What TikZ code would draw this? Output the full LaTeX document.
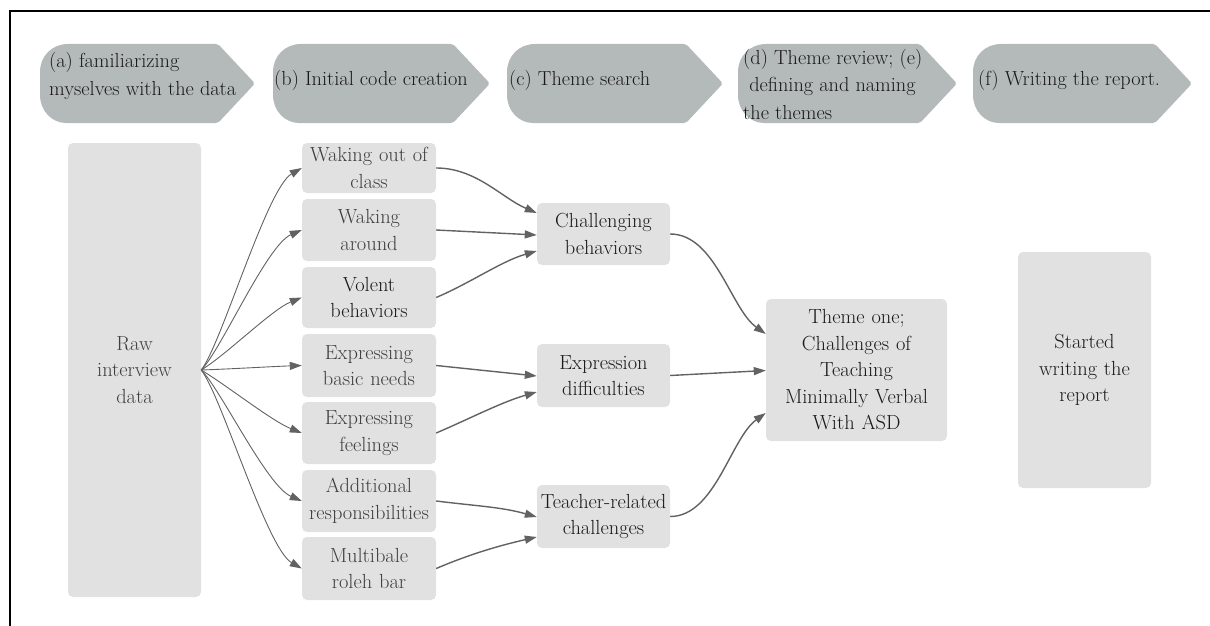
\documentclass[tikz,border=0pt]{standalone}
\usepackage{fontspec}
\usetikzlibrary{arrows.meta}
\definecolor{hdrfill}{RGB}{180,185,186}
\definecolor{boxfill}{RGB}{225,225,225}
\definecolor{edgecol}{RGB}{98,98,98}
\definecolor{txtdark}{RGB}{25,25,25}
\definecolor{txtgrey}{RGB}{62,62,62}
\newcommand\hdrshape[2]{%
  \fill[hdrfill,rounded corners=2pt] ({#1+28},44) -- ({#2-37},44) -- (#2,83.5) -- ({#2-37},123) -- ({#1+28},123)
    [sharp corners] .. controls ({#1+12},123) and (#1,111) .. (#1,95) -- (#1,72)
    .. controls (#1,56) and ({#1+12},44) .. ({#1+28},44) -- cycle;}
\begin{document}
\begin{tikzpicture}[x=1pt,y=-1pt,
  box/.style={fill=boxfill, rounded corners=5pt, inner sep=0pt, align=center,
    font=\fontsize{20.4}{26.5}\selectfont, text=txtgrey},
  hdrtext/.style={anchor=west, align=left, inner sep=0pt,
    font=\fontsize{20.3}{27.5}\selectfont, text=txtdark},
  link/.style={draw=edgecol, line width=1.4pt, -{Triangle[length=12pt,width=8pt]}},
  fan/.style={draw=edgecol, line width=0.9pt, -{Triangle[length=12pt,width=8pt]}},
]
\useasboundingbox (0,0) rectangle (1210,626);
% frame
\draw[line width=2pt] (9.5,626) -- (9.5,11) -- (1210,11);
% header chevrons
\hdrshape{40}{255}
\hdrshape{273}{490}
\hdrshape{507}{723}
\hdrshape{738}{957}
\hdrshape{973}{1192}
\node[hdrtext] (h1) at (49,76) {(a) familiarizing\\myselves with the data};
\node[hdrtext] (h2) at (274,80) {(b) Initial code creation};
\node[hdrtext] (h3) at (509,80) {(c) Theme search};
\node[hdrtext] (h4) at (743,84) {(d) Theme review; (e)\\\ defining and naming\\the themes};
\node[hdrtext] (h5) at (978,80) {(f) Writing the report.};
% boxes
\node[box, minimum width=133pt, minimum height=454pt, text width=129pt] (raw) at (134.5,370) {Raw\\interview\\data};
\node[box, minimum width=134pt, minimum height=50pt, text width=132pt] (c1) at (369,168) {Waking out of\\class};
\node[box, minimum width=134pt, minimum height=62pt, text width=132pt] (c2) at (369,230) {Waking\\around};
\node[box, minimum width=134pt, minimum height=61pt, text width=132pt, text=txtdark] (c3) at (369,297.5) {Volent\\behaviors};
\node[box, minimum width=134pt, minimum height=63pt, text width=132pt] (c4) at (369,365.5) {Expressing\\basic needs};
\node[box, minimum width=134pt, minimum height=62pt, text width=132pt] (c5) at (369,433) {Expressing\\feelings};
\node[box, minimum width=134pt, minimum height=62pt, text width=132pt] (c6) at (369,501) {Additional\\responsibilities};
\node[box, minimum width=134pt, minimum height=63pt, text width=132pt] (c7) at (369,568.5) {Multibale\\roleh bar};
\node[box, minimum width=133pt, minimum height=62pt, text width=131pt, text=txtdark] (t1) at (603.5,234) {Challenging\\behaviors};
\node[box, minimum width=133pt, minimum height=63pt, text width=131pt, text=txtdark] (t2) at (603.5,375.5) {Expression\\difficulties};
\node[box, minimum width=133pt, minimum height=63pt, text width=131pt, text=txtdark] (t3) at (603.5,516.5) {Teacher-related\\challenges};
\node[box, minimum width=181pt, minimum height=142pt, text width=177pt, text=txtdark] (th) at (856.5,370) {Theme one;\\Challenges of\\Teaching\\Minimally Verbal\\With ASD};
\node[box, minimum width=133pt, minimum height=236pt, text width=129pt, text=txtdark] (st) at (1084.5,370) {Started\\writing the\\report};
% fan from raw data
\draw[fan] (raw.east) .. controls +(20,-25) and +(-35,20) .. (c1.west);
\draw[fan] (raw.east) .. controls +(20,-20) and +(-35,15) .. (c2.west);
\draw[fan] (raw.east) .. controls +(25,-15) and +(-30,12) .. (c3.west);
\draw[fan] (raw.east) .. controls +(30,-1) and +(-30,1) .. (c4.west);
\draw[fan] (raw.east) .. controls +(25,15) and +(-30,-12) .. (c5.west);
\draw[fan] (raw.east) .. controls +(20,20) and +(-35,-15) .. (c6.west);
\draw[fan] (raw.east) .. controls +(20,25) and +(-35,-20) .. (c7.west);
% codes to themes
\draw[link] (c1.east) .. controls +(40,0) and +(-35,-15) .. ([yshift=21pt]t1.west);
\draw[link] (c2.east) -- ([yshift=-1pt]t1.west);
\draw[link] (c3.east) .. controls +(35,-15) and +(-35,10) .. ([yshift=-17pt]t1.west);
\draw[link] (c4.east) -- ([yshift=-0.5pt]t2.west);
\draw[link] (c5.east) .. controls +(35,-15) and +(-35,10) .. ([yshift=-16.5pt]t2.west);
\draw[link] (c6.east) .. controls +(40,5) and +(-35,-10) .. ([yshift=-0.5pt]t3.west);
\draw[link] (c7.east) .. controls +(35,-15) and +(-35,8) .. ([yshift=-20.5pt]t3.west);
% themes to theme one
\draw[link] (t1.east) .. controls +(45,0) and +(-35,-25) .. ([yshift=36pt]th.west);
\draw[link] (t2.east) -- ([yshift=-0.5pt]th.west);
\draw[link] (t3.east) .. controls +(45,0) and +(-35,25) .. ([yshift=-43pt]th.west);
\end{tikzpicture}
\end{document}
